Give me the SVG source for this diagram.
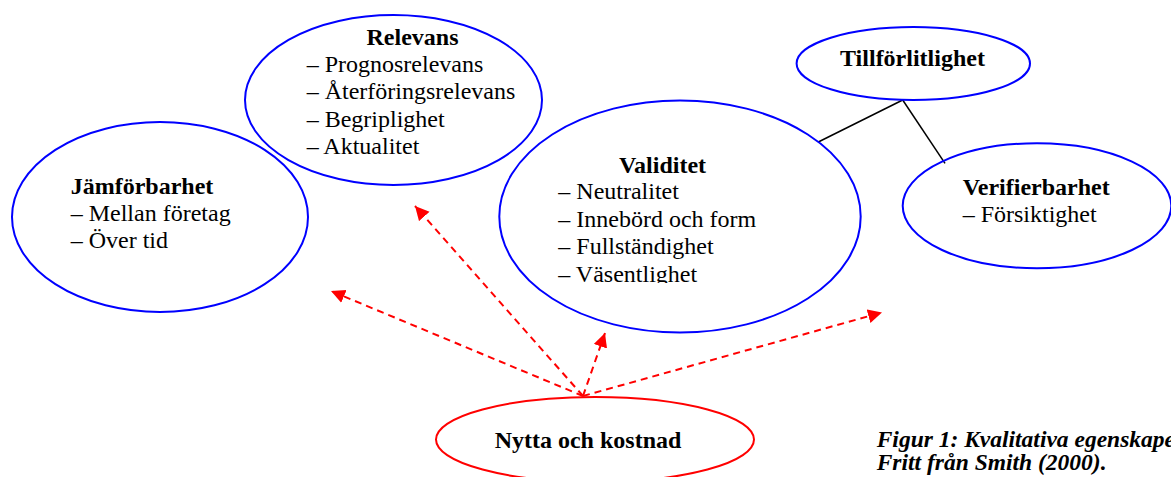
<svg xmlns="http://www.w3.org/2000/svg" width="1171" height="477" viewBox="0 0 1171 477">
<style>
.blue{fill:none;stroke:#0000ff;stroke-width:2}
.red{fill:none;stroke:#ff0000;stroke-width:2}
.t{font-family:"Liberation Serif","Times New Roman",serif;font-size:24px;fill:#000}
.b{font-weight:bold}
.c{text-anchor:middle}
.cap{font-family:"Liberation Serif","Times New Roman",serif;font-size:23.5px;font-weight:bold;font-style:italic;fill:#000}
.dash{fill:none;stroke:#ff0000;stroke-width:2;stroke-dasharray:7 5}
.link{fill:none;stroke:#000;stroke-width:1.5}
</style>
<defs>
<marker id="ah" markerUnits="userSpaceOnUse" markerWidth="15" markerHeight="15" refX="14" refY="7" orient="auto">
<path d="M0,0 L14,7 L0,14 z" fill="#ff0000"/>
</marker>
<clipPath id="vclip"><rect x="0" y="0" width="1171" height="283"/></clipPath>
<clipPath id="capclip"><rect x="0" y="0" width="1171" height="477"/></clipPath>
</defs>
<rect width="1171" height="477" fill="#ffffff"/>
<g id="connectors">
<line class="link" x1="818.3" y1="142" x2="902.7" y2="100"/>
<line class="link" x1="902.7" y1="100" x2="945" y2="163.3"/>
<line class="dash" x1="583" y1="396" x2="331" y2="291" marker-end="url(#ah)"/>
<line class="dash" x1="583" y1="396" x2="415" y2="206" marker-end="url(#ah)"/>
<line class="dash" x1="583" y1="396" x2="605" y2="333" marker-end="url(#ah)"/>
<line class="dash" x1="583" y1="396" x2="882" y2="312.5" marker-end="url(#ah)"/>
</g>
<g id="relevans">
<ellipse class="blue" cx="393.5" cy="100" rx="148.5" ry="85"/>
<text class="t b c" x="412.5" y="45">Relevans</text>
<text class="t" x="306.7" y="71.7">– Prognosrelevans</text>
<text class="t" x="306.7" y="99.3">– Återföringsrelevans</text>
<text class="t" x="306.7" y="127">– Begriplighet</text>
<text class="t" x="306.7" y="154">– Aktualitet</text>
</g>
<g id="jamforbarhet">
<ellipse class="blue" cx="160" cy="217" rx="148" ry="95"/>
<text class="t b" x="70.7" y="194">Jämförbarhet</text>
<text class="t" x="70.7" y="220.5">– Mellan företag</text>
<text class="t" x="70.7" y="247.7">– Över tid</text>
</g>
<g id="validitet">
<ellipse class="blue" cx="680" cy="216.5" rx="180.7" ry="116"/>
<g clip-path="url(#vclip)">
<text class="t b c" x="662.5" y="172.7">Validitet</text>
<text class="t" x="558.3" y="199.3">– Neutralitet</text>
<text class="t" x="558.3" y="227">– Innebörd och form</text>
<text class="t" x="558.3" y="254.3">– Fullständighet</text>
<text class="t" x="558.3" y="281.7">– Väsentlighet</text>
</g>
</g>
<g id="tillforlitlighet">
<ellipse class="blue" cx="913.3" cy="63.5" rx="116.7" ry="36.5"/>
<text class="t b c" x="912.5" y="66">Tillförlitlighet</text>
</g>
<g id="verifierbarhet">
<ellipse class="blue" cx="1037" cy="205.8" rx="134.3" ry="62.5"/>
<text class="t b" x="962.7" y="195">Verifierbarhet</text>
<text class="t" x="962.7" y="221.7">– Försiktighet</text>
</g>
<g id="nytta">
<ellipse class="red" cx="595" cy="439.5" rx="159" ry="42.5"/>
<text class="t b c" x="588" y="448">Nytta och kostnad</text>
</g>
<g id="caption" clip-path="url(#capclip)">
<text class="cap" x="876.7" y="446.7">Figur 1: Kvalitativa egenskaper</text>
<text class="cap" x="876.7" y="470">Fritt från Smith (2000).</text>
</g>
</svg>
